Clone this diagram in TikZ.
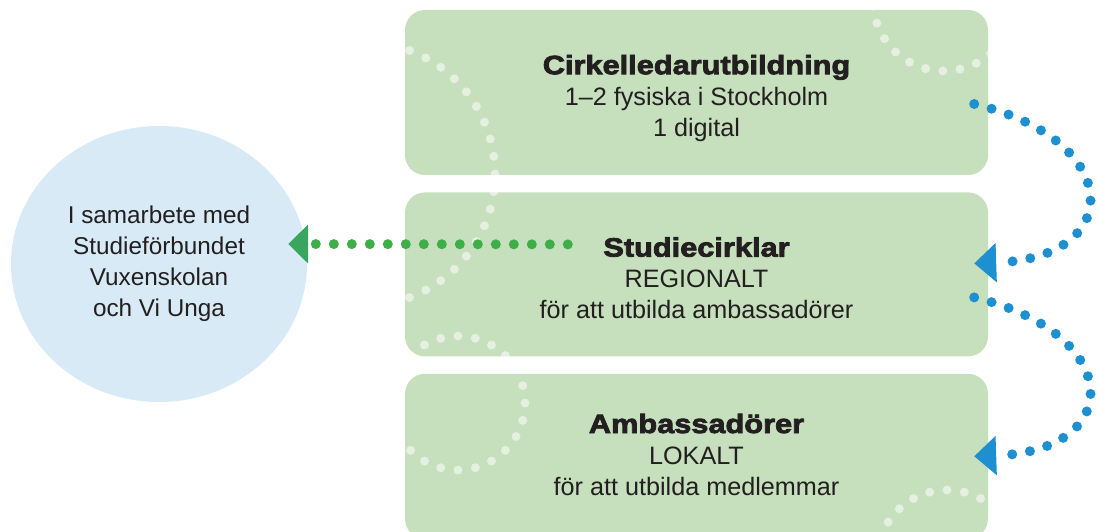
\documentclass[tikz,border=0pt]{standalone}
\usepackage{fontspec}
\setmainfont{Liberation Sans}
\newfontfamily\headfont[FakeStretch=1.16,FakeBold=3]{Liberation Sans Bold}
\usepackage{tikz}
\usetikzlibrary {shapes.geometric}
\usetikzlibrary {positioning}
\usetikzlibrary {arrows.meta}

\definecolor{boxgreen}{HTML}{C6DFBC}
\definecolor{circleblue}{HTML}{D7EAF6}
\definecolor{dotgreen}{HTML}{3EAE49}
\definecolor{tipgreen}{HTML}{39A65E}
\definecolor{dotblue}{HTML}{1E8FD0}
\definecolor{textdark}{HTML}{231F20}

\newcommand{\stagehead}[1]{{\headfont\fontsize{26.5}{31}\selectfont #1}}

\begin{document}
\begin{tikzpicture}[x=1pt, y=-1pt,
  stage/.style={rectangle, rounded corners=20pt, fill=boxgreen, minimum width=583pt, inner sep=0pt},
  stagetext/.style={align=center, inner sep=0pt, text=textdark, font=\fontsize{25.2}{31}\selectfont},
  spot/.style={fill=white, fill opacity=0.55},
  blueflow/.style={dotblue, line width=10pt, line cap=round, dash pattern=on 0pt off 18pt, -{Triangle[length=22pt,width=38pt]}},
  greenflow/.style={dotgreen, line width=10pt, line cap=round, dash pattern=on 0pt off 18pt, -{Triangle[length=20pt,width=38pt,color=tipgreen]}}]
\useasboundingbox (0,0) rectangle (1098,532);

\node [stage, minimum height=165pt] (cirkel) at (696.5,92.5) {};
\node [stage, minimum height=164pt, below=17pt of cirkel] (studie) {};
\node [stage, minimum height=165pt, below=17pt of studie] (ambas) {};

\node [ellipse, fill=circleblue, minimum width=296pt, minimum height=276pt, inner sep=0pt,
  align=center, text=textdark, font=\fontsize{24.3}{31}\selectfont] (samarbete) at (159,264)
  {I samarbete med\\Studieförbundet\\Vuxenskolan\\och Vi Unga};

%pattern in the boxes
\begin{scope}
\clip [rounded corners=20pt] (cirkel.north west) rectangle (cirkel.south east)
  (studie.north west) rectangle (studie.south east)
  (ambas.north west) rectangle (ambas.south east);
\foreach \a in {-92.4,-84.7,...,85}
  \fill [spot] ({363+132*cos(\a)},{174+132*sin(\a)}) circle (4.5pt);
\foreach \a in {35,49,...,175}
  \fill [spot] ({944+71*cos(\a)},{71*sin(\a)}) circle (4.5pt);
\foreach \a in {-135,-120,...,150}
  \fill [spot] ({458+67*cos(\a)},{403+67*sin(\a)}) circle (4.5pt);
\foreach \a in {-161.5,-147.2,...,0}
  \fill [spot] ({947+70*cos(\a)},{560+70*sin(\a)}) circle (4.5pt);
\end{scope}

%texts
\node [stagetext, below=45pt of cirkel.north] (cirkeltext)
  {\stagehead{Cirkelledarutbildning}\\1–2 fysiska i Stockholm\\1 digital};
\node [stagetext, below=45pt of studie.north] (studietext)
  {\stagehead{Studiecirklar}\\REGIONALT\\för att utbilda ambassadörer};
\node [stagetext, below=40pt of ambas.north] (ambastext)
  {\stagehead{Ambassadörer}\\LOKALT\\för att utbilda medlemmar};

%arrows
\draw [greenflow] ([shift={(163,-30)}]studie.west) -- ([shift={(-19,-20)}]samarbete.east);
\draw [blueflow] ([shift={(-14,11.5)}]cirkel.east) .. controls +(150,36) and +(153,-5) .. ([shift={(-14,-11)}]studie.east);
\draw [blueflow] ([shift={(-14,23)}]studie.east) .. controls +(150,36) and +(153,-5) .. ([shift={(-14,0)}]ambas.east);

\end{tikzpicture}
\end{document}
